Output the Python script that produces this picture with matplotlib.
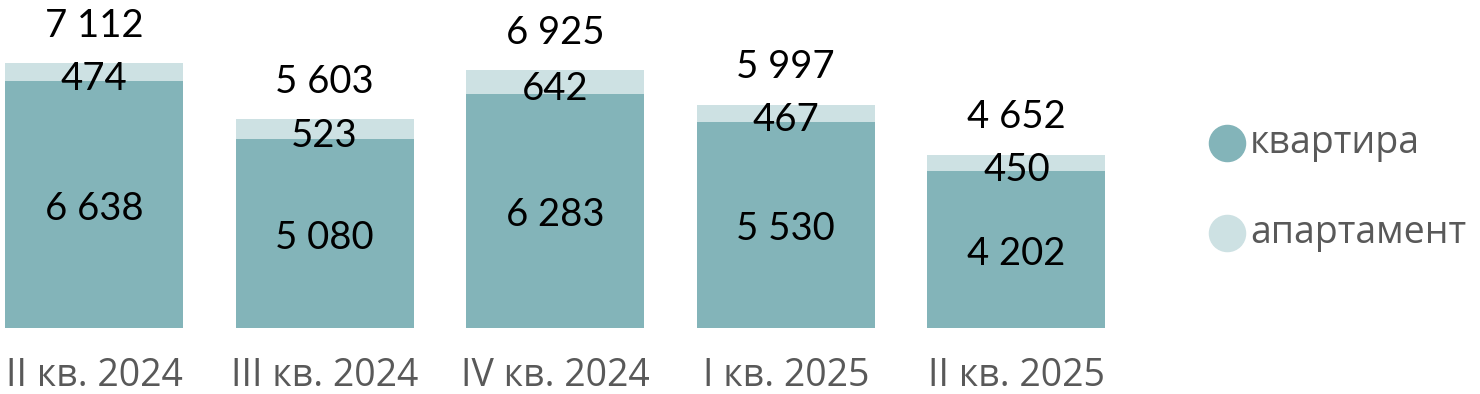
import matplotlib
matplotlib.use('Agg')
from matplotlib import pyplot as plt

plt.rcParams['font.family'] = ['Lato', 'DejaVu Sans']

quarters = ['II кв. 2024', 'III кв. 2024', 'IV кв. 2024', 'I кв. 2025', 'II кв. 2025']
flats = [6638, 5080, 6283, 5530, 4202]
apartments = [474, 523, 642, 467, 450]
totals = [7112, 5603, 6925, 5997, 4652]

dark = '#83b4b9'
light = '#cde1e3'
grey = '#595959'
gfont = ['Open Sans', 'DejaVu Sans']

def fmt(v):
    return f'{v:,}'.replace(',', ' ')

fig = plt.figure(figsize=(14.8, 3.94), dpi=100)
ax = fig.add_axes([0, 66 / 394, 1, 328 / 394])

x = list(range(len(quarters)))
ax.bar(x, flats, width=0.772, color=dark)
ax.bar(x, apartments, bottom=flats, width=0.772, color=light)

for i in x:
    ax.annotate(fmt(flats[i]), (i, flats[i] / 2), xytext=(0, -3),
                textcoords='offset points', ha='center', va='center',
                fontsize=27.5, color='black')
    ax.annotate(fmt(apartments[i]), (i, flats[i] + apartments[i] / 2),
                xytext=(0, -5), textcoords='offset points',
                ha='center', va='center', fontsize=27.5, color='black')
    ax.annotate(fmt(totals[i]), (i, totals[i]), xytext=(0, 19),
                textcoords='offset points', ha='center', va='baseline',
                fontsize=27.5, color='black')

ax.set_xlim(-94 / 230.6, (1480 - 94) / 230.6)
ax.set_ylim(0, 328 / 0.03726)
ax.set_xticks(x)
ax.set_xticklabels(quarters, fontsize=27, color=grey, family=gfont)
ax.tick_params(axis='x', length=0, pad=21)
ax.set_yticks([])
for s in ax.spines.values():
    s.set_visible(False)

# legend
for y, c, lab in [(143, dark, 'квартира'), (233, light, 'апартамент')]:
    fy = 1 - y / 394
    fig.add_artist(plt.Line2D([1227 / 1480], [fy], marker='o', markersize=26,
                              color=c, linestyle='none',
                              transform=fig.transFigure))
    fig.text(1250 / 1480, fy, lab, fontsize=27, color=grey, va='center',
             ha='left', family=gfont)

plt.savefig('out.png', dpi=100)
